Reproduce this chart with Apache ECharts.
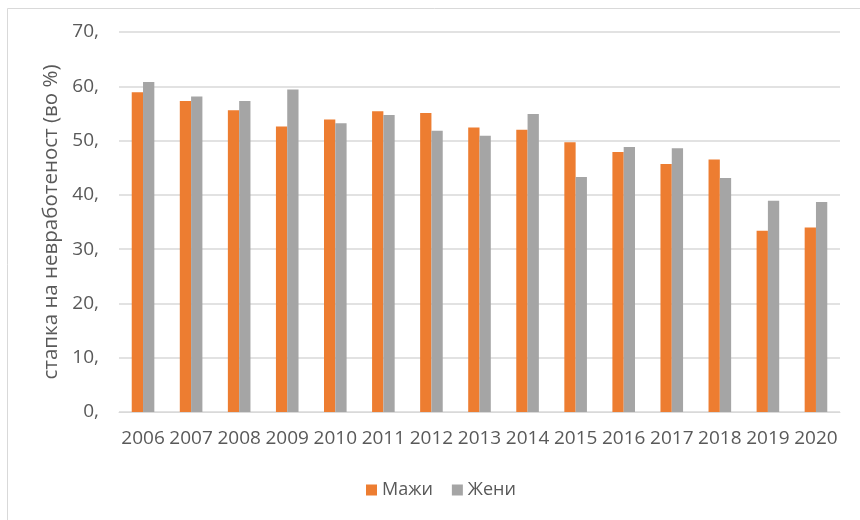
<!DOCTYPE html>
<html>
<head>
<meta charset="utf-8">
<script src="https://cdn.jsdelivr.net/npm/echarts@6/dist/echarts.min.js"></script>
<style>
html,body{margin:0;padding:0;background:#fff;}
#c{width:860px;height:520px;}
</style>
</head>
<body>
<div id="c"></div>
<script>
const years = ['2006','2007','2008','2009','2010','2011','2012','2013','2014','2015','2016','2017','2018','2019','2020'];
const men   = [58.9, 57.3, 55.6, 52.6, 53.9, 55.4, 55.1, 52.4, 52.0, 49.7, 47.9, 45.7, 46.5, 33.4, 34.0];
const women = [60.8, 58.1, 57.3, 59.4, 53.2, 54.7, 51.8, 50.9, 54.9, 43.3, 48.8, 48.6, 43.1, 38.9, 38.7];
const yTicks = { min: 0, max: 70, step: 10 };
const seriesNames = ['Мажи', 'Жени'];
const yName = 'стапка на невработеност (во %)';

const FONT = 'Open Sans';
const chart = echarts.init(document.getElementById('c'), null, {renderer: 'canvas'});
chart.setOption({
  animation: false,
  backgroundColor: '#ffffff',
  textStyle: { fontFamily: FONT },
  graphic: [{
    type: 'rect', left: 5, top: 6, silent: true, z: -1,
    shape: { width: 900, height: 600 },
    style: { fill: 'none', stroke: '#D9D9D9', lineWidth: 1 }
  }],
  grid: { left: 119, right: 20, top: 32, bottom: 108, containLabel: false },
  legend: {
    left: 361, top: 476,
    itemWidth: 11, itemHeight: 11, itemGap: 19,
    icon: 'rect',
    textStyle: { color: '#595959', fontSize: 18, fontFamily: FONT },
    data: seriesNames
  },
  xAxis: {
    type: 'category',
    data: years,
    axisLine: { lineStyle: { color: '#D9D9D9', width: 1 } },
    axisTick: { show: false },
    axisLabel: { color: '#595959', fontSize: 19, fontFamily: FONT, interval: 0, margin: 17 }
  },
  yAxis: {
    type: 'value',
    min: yTicks.min, max: yTicks.max, interval: yTicks.step,
    name: yName,
    nameLocation: 'middle',
    nameGap: 53,
    nameRotate: 90,
    nameTextStyle: { color: '#595959', fontSize: 20.5, fontFamily: FONT },
    axisLine: { show: false },
    axisTick: { show: false },
    splitLine: { lineStyle: { color: '#D9D9D9', width: 1.5 } },
    axisLabel: { color: '#595959', fontSize: 19, fontFamily: FONT, margin: 20,
      formatter: v => v + ',' }
  },
  series: [
    { name: seriesNames[0], type: 'bar', data: men, barGap: '0%', barCategoryGap: '53%',
      itemStyle: { color: '#ED7D31' } },
    { name: seriesNames[1], type: 'bar', data: women, barGap: '0%', barCategoryGap: '53%',
      itemStyle: { color: '#A5A5A5' } }
  ]
});
</script>
</body>
</html>
